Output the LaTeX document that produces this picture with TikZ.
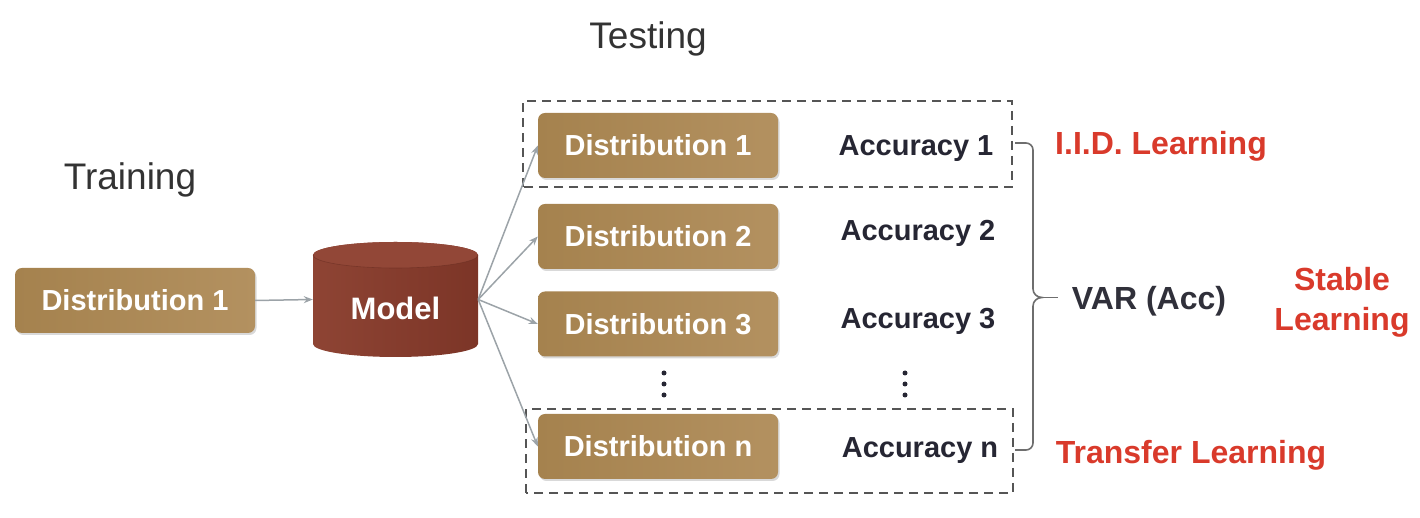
\documentclass[tikz,border=0pt]{standalone}
\usepackage{fontspec}
\setmainfont{Liberation Sans}
\usetikzlibrary{shadows,arrows.meta}
\definecolor{boxL}{HTML}{A5824E}
\definecolor{boxR}{HTML}{B39160}
\definecolor{cylL}{HTML}{8E4434}
\definecolor{cylR}{HTML}{7C3527}
\definecolor{cylTop}{HTML}{924737}
\definecolor{redT}{HTML}{D93A2B}
\definecolor{darkT}{HTML}{262633}
\definecolor{varT}{HTML}{30303A}
\definecolor{greyT}{HTML}{333333}
\definecolor{arrG}{HTML}{9CA3A8}
\definecolor{dashG}{HTML}{555555}
\definecolor{braceG}{HTML}{6E6E6E}
\begin{document}
\begin{tikzpicture}[x=1pt,y=1pt,
  distbox/.style={rectangle, rounded corners=7pt, minimum width=240pt, minimum height=65pt,
    left color=boxL, right color=boxR, text=white,
    font=\fontsize{29}{34}\selectfont\bfseries,
    drop shadow={opacity=0.3, shadow xshift=1.5pt, shadow yshift=-2pt, fill=gray}},
  acclbl/.style={text=darkT, font=\fontsize{29}{34}\selectfont\bfseries},
  redlbl/.style={text=redT, font=\fontsize{32}{40}\selectfont\bfseries, align=center},
  plainlbl/.style={text=greyT, font=\fontsize{37}{42}\selectfont},
  conn/.style={draw=arrG, line width=1.5pt, -{Stealth[length=9pt,width=7pt]}},
  dashbox/.style={draw=dashG, line width=2pt, dash pattern=on 9pt off 6pt},
  dotmark/.style={circle, fill=darkT, inner sep=0pt, minimum size=5pt},
  bracestyle/.style={draw=braceG, line width=1.6pt}]
\useasboundingbox (0,0) rectangle (1420,518);

% titles
\node[plainlbl] (testing) at (648,479) {Testing};
\node[plainlbl] (training) at (130,338) {Training};

% training distribution
\node[distbox] (train) at (135,217.5) {Distribution 1};

% model cylinder
\shade[left color=cylL, right color=cylR] (313,263) -- (313,174)
  arc[start angle=180, end angle=360, x radius=82.5, y radius=13]
  -- (478,263) arc[start angle=0, end angle=180, x radius=82.5, y radius=13] -- cycle;
\fill[cylTop] (395.5,263) ellipse[x radius=82.5, y radius=13];
\draw[cylR!80!black, line width=0.6pt, opacity=0.5] (313,263) arc[start angle=180, end angle=360, x radius=82.5, y radius=13];
\node[minimum width=165pt, minimum height=115pt, inner sep=0pt] (model) at (395.5,218.5) {};
\node[text=white, font=\fontsize{31}{36}\selectfont\bfseries] (modeltext) at ([yshift=-9pt]model.center) {Model};

% testing distributions
\node[distbox] (d1) at (658,372.5) {Distribution 1};
\node[distbox] (d2) at (658,281.5) {Distribution 2};
\node[distbox] (d3) at (658,194) {Distribution 3};
\node[distbox] (dn) at (658,71.5) {Distribution n};

% accuracies
\node[acclbl] (a1) at (916,369) {Accuracy 1};
\node[acclbl] (a2) at (918,285) {Accuracy 2};
\node[acclbl] (a3) at (918,197) {Accuracy 3};
\node[acclbl] (an) at (920,67) {Accuracy n};

% ellipsis dots
\foreach \x/\n in {664/l,905/r}{
  \node[dotmark] (dot\n1) at (\x,145) {};
  \node[dotmark] (dot\n2) at (\x,134) {};
  \node[dotmark] (dot\n3) at (\x,123) {};
}

% dashed groups
\draw[dashbox] (523,331) rectangle (1012,417);
\draw[dashbox] (526,25) rectangle (1013,109);

% connectors
\draw[conn] (train.east) -- (model.west);
\draw[conn] (model.east) -- (d1.west);
\draw[conn] (model.east) -- (d2.west);
\draw[conn] (model.east) -- (d3.west);
\draw[conn] (model.east) -- (dn.west);

% right-hand labels
\node[text=varT, font=\fontsize{32}{40}\selectfont\bfseries] (var) at (1149,217) {VAR (Acc)};
\node[redlbl] (iid) at (1161,372) {I.I.D. Learning};
\node[redlbl] (stable) at (1342,216) {Stable\\Learning};
\node[redlbl] (transfer) at (1191,63) {Transfer Learning};

% brace
\coordinate (btip) at (1058,220.5);
\draw[bracestyle] (1015,375) -- (1026,375) to[out=0,in=90] (1033,368) -- (1033,229)
  to[out=-90,in=180] (1042,220.5) to[out=180,in=90] (1033,212) -- (1033,75)
  to[out=-90,in=0] (1026,68) -- (1015,68);
\draw[bracestyle] (1042,220.5) -- (btip);
\end{tikzpicture}
\end{document}
